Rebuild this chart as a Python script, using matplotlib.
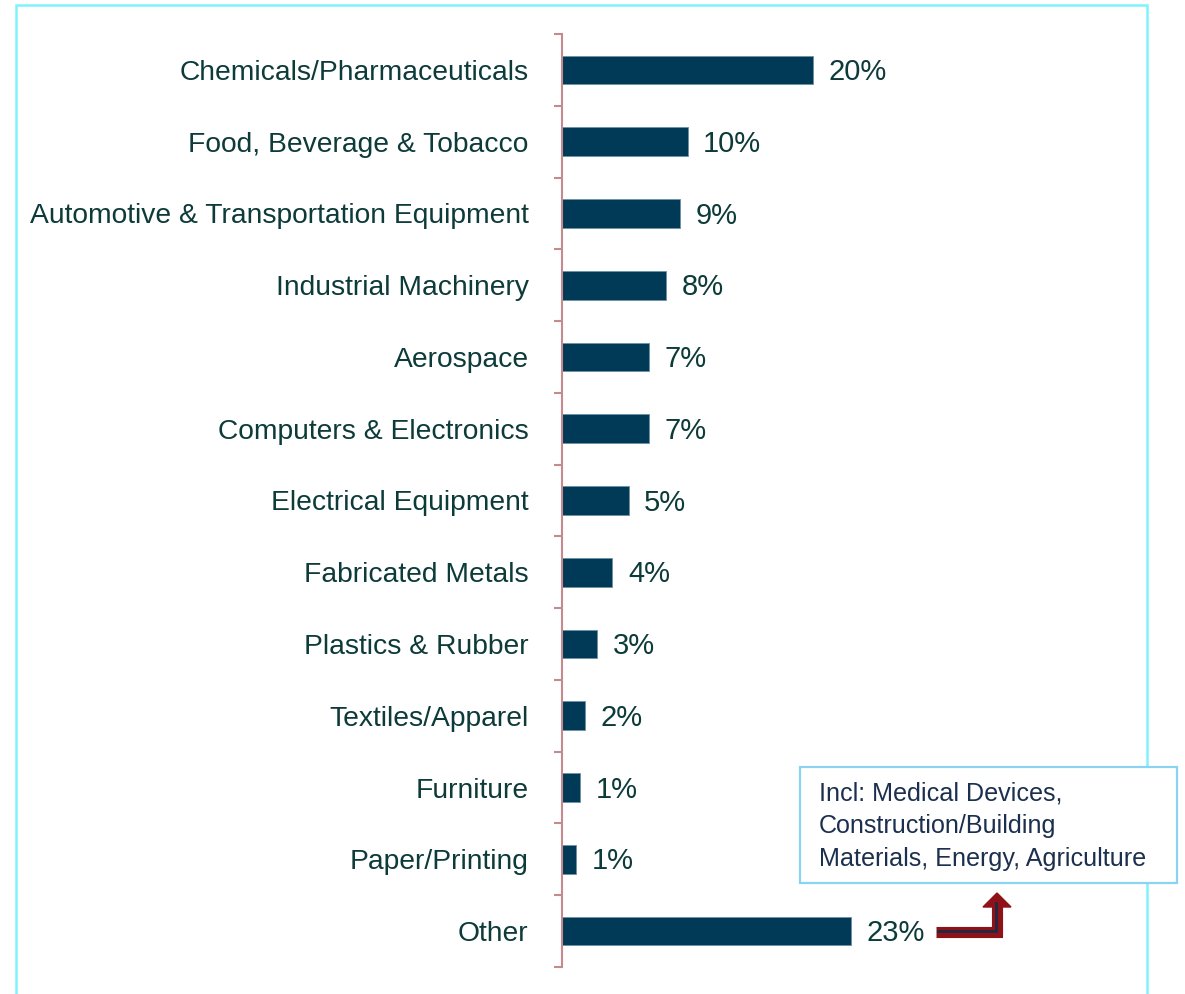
import matplotlib
matplotlib.use("Agg")
import matplotlib.pyplot as plt
import numpy as np
from matplotlib.patches import Rectangle, Polygon
from matplotlib.lines import Line2D

# share of projects by industry (%)
industries = ["Chemicals/Pharmaceuticals", "Food, Beverage & Tobacco",
              "Automotive & Transportation Equipment", "Industrial Machinery",
              "Aerospace", "Computers & Electronics", "Electrical Equipment",
              "Fabricated Metals", "Plastics & Rubber", "Textiles/Apparel",
              "Furniture", "Paper/Printing", "Other"]
shares = [20.0, 10.0, 9.4, 8.3, 6.9, 6.9, 5.3, 4.0, 2.8, 1.8, 1.4, 1.1, 23.0]
other_note = "Incl: Medical Devices,\nConstruction/Building\nMaterials, Energy, Agriculture"

bar_col = "#003A57"
txt_col = "#0D3B3A"
spine_col = "#C48A8E"
font = "Liberation Sans"

W, H = 1185, 994
fig = plt.figure(figsize=(W/100, H/100), dpi=100)
ax = fig.add_axes([562/W, 1-967/H, 46*12.55/W, (967-34)/H])

y = np.arange(len(industries))
ax.barh(y, shares, height=0.4, color=bar_col, edgecolor="#6F8FA3", linewidth=0.6)
ax.set_ylim(len(industries)-0.5, -0.5)
ax.set_xlim(0, 46)

ax.set_yticks(y)
ax.set_yticklabels(industries, fontsize=20.3, color=txt_col, family=font)
ax.set_yticks(np.arange(len(industries)+1)-0.5, minor=True)
ax.tick_params(axis="y", which="major", length=0, pad=24)
ax.tick_params(axis="y", which="minor", length=6, width=1.5, color=spine_col, direction="out")
ax.set_xticks([])
for s in ["top", "right", "bottom"]:
    ax.spines[s].set_visible(False)
ax.spines["left"].set_color(spine_col)
ax.spines["left"].set_linewidth(1.5)

for yi, v in zip(y, shares):
    ax.text(v + 1.25, yi + 0.03, "%.0f%%" % v, va="center", ha="left",
            fontsize=21, color=txt_col, family=font)

# outer frame
fig.patches.append(Rectangle((16/W, -0.05), (1147-16)/W, 1.05-5/H,
                             transform=fig.transFigure, fill=False,
                             edgecolor="#7FF3FB", linewidth=1.8))

# note box for "Other"
fig.patches.append(Rectangle((800/W, 1-883/H), 377/W, 116/H,
                             transform=fig.transFigure, facecolor="white",
                             edgecolor="#8AD3F2", linewidth=1.6, zorder=5))
fig.text(819/W, 1-826/H, other_note, fontsize=18.1, color="#1B2F4E",
         va="center", ha="left", linespacing=1.45, family=font, zorder=6)

# elbow arrow pointing to the note
px = lambda x, yy: (x/W, 1-yy/H)
xs = [936/W, 997/W, 997/W]
ys = [1-932/H, 1-932/H, 1-905/H]
fig.lines.append(Line2D(xs, ys, transform=fig.transFigure, color="#8E1218",
                        linewidth=8, solid_joinstyle="miter", solid_capstyle="butt"))
fig.lines.append(Line2D([938/W, 996/W, 996/W], [ys[0] + 1/H, ys[1] + 1/H, ys[2] + 2/H],
                        transform=fig.transFigure, color="#1D2A44", linewidth=2,
                        solid_joinstyle="miter"))
fig.patches.append(Polygon([px(983, 907), px(1011, 907), px(997, 893)], closed=True,
                           transform=fig.transFigure, facecolor="#8E1218",
                           edgecolor="#8E1218"))

fig.savefig("out.png", dpi=100)
